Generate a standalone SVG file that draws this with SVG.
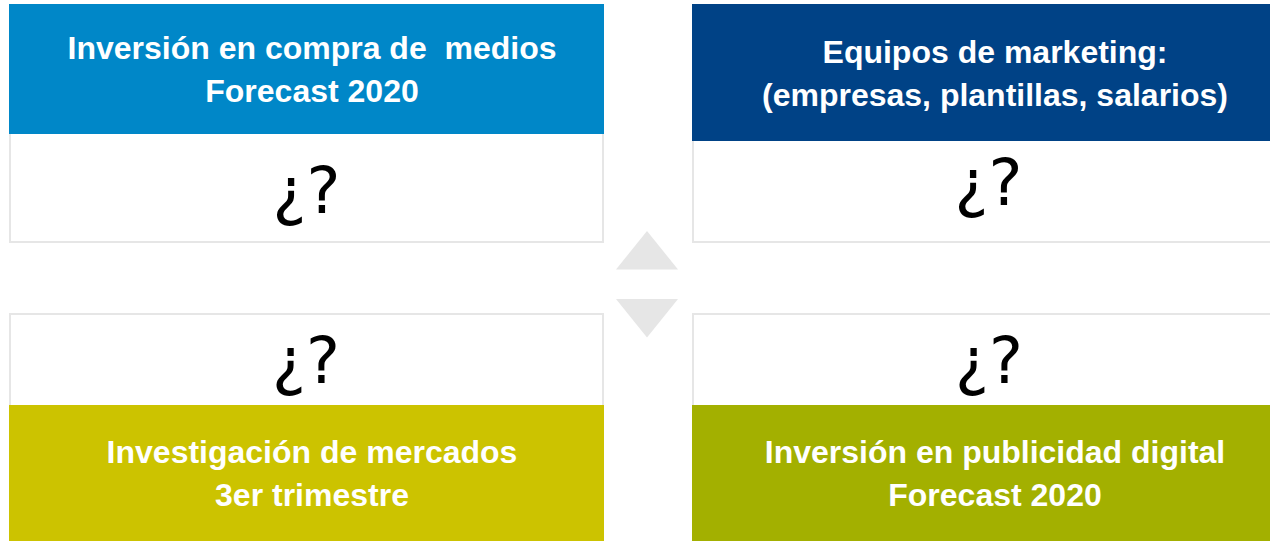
<svg xmlns="http://www.w3.org/2000/svg" width="1270" height="541" viewBox="0 0 1270 541">
<style>
.box{fill:#FFFFFF;stroke:#E6E6E6;stroke-width:2}
.t{font-family:"Liberation Sans",Arial,sans-serif;font-weight:bold;font-size:32px;fill:#FFFFFF;text-anchor:middle;white-space:pre}
.q{font-family:"DejaVu Sans",sans-serif;font-size:64px;fill:#000000;text-anchor:middle}
.tri{fill:#E6E6E6}
</style>
<rect x="0" y="0" width="1270" height="541" fill="#FFFFFF"/>
<g id="node-medios">
<rect class="box" x="10" y="5" width="593" height="237"/>
<rect x="9" y="4" width="595" height="130" fill="#0087C8"/>
<text class="t" x="312" y="59" xml:space="preserve">Inversión en compra de  medios</text>
<text class="t" x="312" y="102">Forecast 2020</text>
<text class="q" x="306.5" y="213">¿?</text>
</g>
<g id="node-equipos">
<rect class="box" x="693" y="5" width="600" height="237"/>
<rect x="692" y="4" width="578" height="137" fill="#004286"/>
<text class="t" x="995" y="63">Equipos de marketing:</text>
<text class="t" x="995" y="106">(empresas, plantillas, salarios)</text>
<text class="q" x="988.5" y="205">¿?</text>
</g>
<g id="node-investigacion">
<rect class="box" x="10" y="314" width="593" height="250"/>
<rect x="9" y="405" width="595" height="136" fill="#CCC300"/>
<text class="q" x="306" y="383">¿?</text>
<text class="t" x="312" y="463">Investigación de mercados</text>
<text class="t" x="312" y="506">3er trimestre</text>
</g>
<g id="node-digital">
<rect class="box" x="693" y="314" width="600" height="250"/>
<rect x="692" y="405" width="578" height="136" fill="#A3B000"/>
<text class="q" x="989" y="383">¿?</text>
<text class="t" x="995" y="463">Inversión en publicidad digital</text>
<text class="t" x="995" y="506">Forecast 2020</text>
</g>
<g id="connectors">
<polygon class="tri" points="647,231 678,269.5 616,269.5"/>
<polygon class="tri" points="616,299 678,299 647,337.5"/>
</g>
</svg>
